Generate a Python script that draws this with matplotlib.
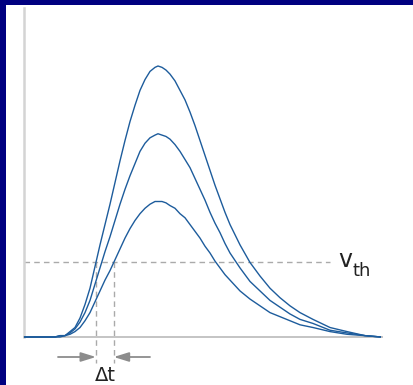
import numpy as np
import matplotlib
matplotlib.use("Agg")
import matplotlib.pyplot as plt
from matplotlib.patches import Rectangle

# ---- data (arbitrary units) ----
t = [0, 31, 36, 41, 46, 51, 56, 61, 66, 71,
     76, 81, 86, 91, 96, 101, 106, 111, 116, 121,
     126, 131, 134, 138, 142, 146, 151, 156, 161, 166,
     171, 176, 181, 186, 191, 196, 201, 206, 216, 226,
     236, 246, 256, 266, 276, 289, 306, 323, 341, 357]

v_large = [0, 0, 0.01, 0.01, 0.04, 0.07, 0.14, 0.24, 0.36, 0.52,
           0.68, 0.83, 0.98, 1.14, 1.30, 1.45, 1.59, 1.71, 1.82, 1.90,
           1.96, 1.99, 2.00, 1.99, 1.97, 1.94, 1.89, 1.82, 1.75, 1.66,
           1.56, 1.45, 1.34, 1.23, 1.12, 1.02, 0.92, 0.83, 0.68, 0.55,
           0.45, 0.36, 0.29, 0.23, 0.18, 0.13, 0.07, 0.04, 0.01, 0]

v_mid = [0, 0, 0.01, 0.01, 0.03, 0.06, 0.11, 0.18, 0.27, 0.39,
         0.51, 0.63, 0.74, 0.86, 0.98, 1.09, 1.19, 1.28, 1.37, 1.43,
         1.47, 1.49, 1.50, 1.49, 1.48, 1.46, 1.42, 1.37, 1.31, 1.25,
         1.17, 1.09, 1.01, 0.92, 0.84, 0.77, 0.69, 0.62, 0.51, 0.41,
         0.34, 0.27, 0.22, 0.17, 0.13, 0.10, 0.05, 0.03, 0.01, 0]

v_small = [0, 0, 0.0, 0.01, 0.02, 0.04, 0.07, 0.12, 0.18, 0.26,
           0.34, 0.42, 0.49, 0.57, 0.65, 0.73, 0.80, 0.86, 0.91, 0.95,
           0.98, 1.0, 1.0, 1.0, 0.99, 0.97, 0.95, 0.91, 0.88, 0.83,
           0.78, 0.73, 0.67, 0.62, 0.56, 0.51, 0.46, 0.42, 0.34, 0.28,
           0.23, 0.18, 0.15, 0.12, 0.09, 0.07, 0.04, 0.02, 0.01, 0]

v_th = 0.55
th_label = "th"
dt_label = "\u0394t"

# ---- figure ----
W, H = 413, 385
fig = plt.figure(figsize=(W / 100, H / 100), dpi=100)
fig.patch.set_facecolor("white")

ax = fig.add_axes([24 / W, (H - 337) / H, (382 - 24) / W, (337 - 8) / H])
ax.set_xlim(0, 358)
ax.set_ylim(0, (337 - 8) / 135.5)
ax.set_xticks([])
ax.set_yticks([])
for s in ("top", "right"):
    ax.spines[s].set_visible(False)
ax.spines["left"].set_color("#d4d4d4")
ax.spines["left"].set_linewidth(1.8)
ax.spines["bottom"].set_color("#c4c4c4")
ax.spines["bottom"].set_linewidth(1.4)

blue = "#1d5c9c"
for v in (v_large, v_mid, v_small):
    ax.plot(t, v, color=blue, lw=1.0, solid_joinstyle="round",
            solid_capstyle="butt", clip_on=False, zorder=3)

gray_dash = "#aaaaaa"
ax.plot([0, 306], [v_th, v_th], color=gray_dash, lw=1.0, ls=(0, (4, 3)), zorder=2)

# threshold crossings on the rising edges
n_rise = 22
t1 = float(np.interp(v_th, v_large[1:n_rise], t[1:n_rise]))
t2 = float(np.interp(v_th, v_small[1:n_rise], t[1:n_rise]))
y_low = -26 / 135.5
for tc in (t1, t2):
    ax.plot([tc, tc], [v_th, y_low], color=gray_dash, lw=1.0, ls=(0, (4, 3)),
            clip_on=False, zorder=2)

y_arr = -20 / 135.5
arrow_kw = dict(arrowstyle="-|>,head_length=0.9,head_width=0.28", color="#8c8c8c",
                lw=1.3, shrinkA=0, shrinkB=0)
ax.annotate("", xy=(t1, y_arr), xytext=(34, y_arr), arrowprops=arrow_kw,
            annotation_clip=False)
ax.annotate("", xy=(t2, y_arr), xytext=(126, y_arr), arrowprops=arrow_kw,
            annotation_clip=False)

ax.text((t1 + t2) / 2, -44 / 135.5, dt_label, ha="center", va="baseline",
        fontsize=14, color="#222222", family="DejaVu Sans")

# v_th label
ax.text(314, (337 - 267) / 135.5, "v", ha="left", va="baseline",
        fontsize=17, color="#222222", family="DejaVu Sans")
ax.text(328.5, (337 - 276) / 135.5, th_label, ha="left", va="baseline",
        fontsize=13, color="#222222", family="DejaVu Sans", clip_on=False)

# navy frame on top and left
navy = "#000080"
fig.patches.append(Rectangle((0, 1 - 5 / H), 1, 5 / H, transform=fig.transFigure,
                             facecolor=navy, edgecolor="none", zorder=10))
fig.patches.append(Rectangle((0, 0), 6 / W, 1, transform=fig.transFigure,
                             facecolor=navy, edgecolor="none", zorder=10))

fig.savefig("out.png", dpi=100, facecolor="white")
